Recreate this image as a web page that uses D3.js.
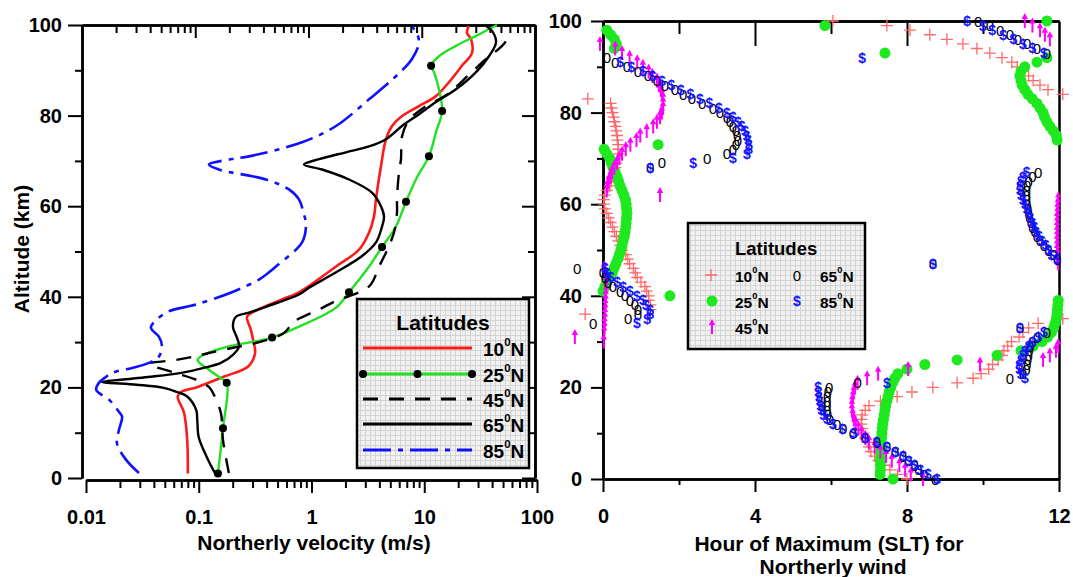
<!DOCTYPE html>
<html>
<head>
<meta charset="utf-8">
<script src="https://cdn.jsdelivr.net/npm/d3@7/dist/d3.min.js"></script>
<style>
  body { margin: 0; background: #fff; }
  svg text { font-family: "Liberation Sans", Arial, sans-serif; font-weight: bold; fill: #000; }
</style>
</head>
<body>
<svg id="chart" width="1073" height="577"></svg>
<script>
// ---------------- Left panel: northerly velocity profiles (m/s vs km) ----------------
const alt10 = [1, 8.4, 14.4, 18, 19, 20.1, 22.4, 24.6, 27.6, 30.5, 32.7, 35.6, 36.5, 39.4, 41, 46.7, 50.4, 54.2, 57.7, 61.5, 68.8, 74.8, 77.7, 79.9, 82.1, 84.3, 87.4, 91, 93.8, 96.9, 98.3, 99.8];
const vel10 = [0.080, 0.079, 0.074, 0.065, 0.070, 0.098, 0.168, 0.274, 0.316, 0.303, 0.290, 0.268, 0.296, 0.547, 0.774, 1.65, 2.64, 3.24, 3.58, 3.73, 4.13, 4.58, 5.18, 6.35, 8.98, 12.7, 16.6, 21.6, 26.5, 26.0, 23.9, 24.9];

const alt25 = [1, 11, 21, 22.3, 23.9, 26.1, 28.8, 30.1, 31, 33.4, 37.6, 41, 46.7, 51, 55.5, 61, 66.4, 71, 76.3, 81, 85.8, 89.6, 91, 93.1, 95.4, 97.6, 100];
const vel25 = [0.148, 0.164, 0.177, 0.151, 0.123, 0.098, 0.168, 0.309, 0.447, 0.774, 1.65, 2.15, 3.24, 4.22, 5.61, 6.89, 8.63, 11.0, 12.7, 14.4, 13.5, 12.2, 11.5, 13.5, 19.1, 28.8, 44.2];
const dots25 = [1, 11, 21, 31, 41, 51, 61, 71, 81, 91];

const alt45 = [1.1, 8.4, 14.4, 18.4, 20.1, 21.7, 23.3, 25.2, 26, 26.8, 27.6, 28.8, 30.1, 32, 34.5, 37.2, 38.9, 42.3, 46.7, 49.8, 54.2, 58.6, 61.5, 67.5, 70.4, 75.4, 79, 81.8, 84.5, 89, 92.5, 95.4, 98];
const vel45 = [0.185, 0.164, 0.157, 0.136, 0.123, 0.0946, 0.0603, 0.0362, 0.0603, 0.0908, 0.123, 0.206, 0.356, 0.570, 0.700, 1.17, 1.58, 3.24, 3.97, 4.58, 5.39, 5.73, 5.73, 5.97, 6.22, 6.35, 7.33, 9.95, 15.6, 24.9, 35.3, 49.0, 58.9];

const alt65 = [0.7, 4.6, 9, 12.8, 15, 18, 19, 19.9, 20.6, 21.2, 21.7, 22.3, 23.2, 24.3, 25.4, 27.2, 29, 31, 33.4, 35.6, 36.5, 37.8, 40.5, 42, 45.4, 49, 52, 55.5, 57.7, 60, 63, 65.9, 68.1, 69.2, 70.4, 71.9, 73.2, 74.8, 77.7, 80.3, 83, 85.8, 89.6, 93.1, 96.2, 98.7, 99.8];
const vel65 = [0.142, 0.118, 0.100, 0.097, 0.095, 0.079, 0.064, 0.049, 0.028, 0.0139, 0.0204, 0.0355, 0.070, 0.111, 0.157, 0.201, 0.228, 0.218, 0.201, 0.214, 0.279, 0.394, 0.774, 0.951, 1.65, 2.81, 3.73, 4.22, 4.40, 4.13, 3.44, 2.15, 1.24, 0.857, 1.17, 2.02, 3.24, 4.58, 6.35, 8.98, 12.7, 19.1, 28.8, 37.5, 43.3, 39.9, 35.3];

const alt85 = [1.1, 4, 7.7, 10.6, 13.5, 14.6, 17.3, 18.8, 19.5, 21, 22.3, 23.2, 24.3, 25.4, 26.8, 29, 31.2, 32.7, 33.4, 36.5, 38.3, 41, 43.8, 45.4, 46.7, 52, 56, 58.5, 61.5, 63.7, 65.9, 68.1, 69.2, 70.4, 71, 74.1, 77.7, 83.6, 88.7, 92.5, 96.2, 98.5, 99.6];
const vel85 = [0.0295, 0.0227, 0.0188, 0.0196, 0.0209, 0.0196, 0.0160, 0.0130, 0.0123, 0.0130, 0.0150, 0.0170, 0.0256, 0.0362, 0.0443, 0.0472, 0.0443, 0.0385, 0.0377, 0.0513, 0.0946, 0.197, 0.342, 0.420, 0.484, 0.824, 0.893, 0.85, 0.774, 0.631, 0.394, 0.151, 0.123, 0.197, 0.279, 0.824, 1.65, 3.24, 5.61, 7.78, 8.98, 8.45, 7.78];

const velTicks = [0.01, 0.1, 1, 10, 100];
const velTickLabels = ["0.01", "0.1", "1", "10", "100"];
const altTicks = [0, 20, 40, 60, 80, 100];
const altMinor = [10, 30, 50, 70, 90];
const latLabels = ["10", "25", "45", "65", "85"];

// ---------------- Right panel: hour of maximum (SLT) per km ----------------
const altKm = [0,1,2,3,4,5,6,7,8,9,10,11,12,13,14,15,16,17,18,19,20,21,22,23,24,25,26,27,28,29,30,31,32,33,34,35,36,37,38,39,40,41,42,43,44,45,46,47,48,49,50,51,52,53,54,55,56,57,58,59,60,61,62,63,64,65,66,67,68,69,70,71,72,73,74,75,76,77,78,79,80,81,82,83,84,85,86,87,88,89,90,91,92,93,94,95,96,97,98,99,100];

const hour10 = [8.0,7.75,7.55,7.4,7.25,7.15,7.05,7.0,6.95,6.9,6.85,6.82,6.8,6.8,6.82,6.9,7.0,7.3,7.74,8.13,8.68,9.32,9.74,9.95,10.15,10.25,10.4,10.5,10.55,10.65,10.75,10.95,11.05,11.2,11.45,12.1,-0.47,1.25,1.25,1.2,1.2,1.15,1.1,1.0,0.9,0.85,0.8,0.7,0.65,0.6,0.5,0.45,0.4,0.35,0.3,0.25,0.2,0.15,0.1,0.05,0.03,0.02,0.05,0.1,0.18,0.22,0.25,0.28,0.32,0.35,0.38,0.4,0.4,0.4,0.38,0.37,0.35,0.33,0.3,0.28,0.25,0.22,0.2,-0.4,12.1,11.71,11.5,11.32,11.2,11.05,10.9,10.76,10.5,10.18,9.84,9.47,9.05,8.6,8.08,7.47,6.05];

const hour25 = [7.63,7.29,7.3,7.3,7.3,7.31,7.31,7.32,7.32,7.33,7.34,7.35,7.36,7.38,7.4,7.42,7.44,7.47,7.5,7.53,7.57,7.62,7.68,7.76,8.0,8.47,9.32,10.37,11.0,11.32,11.55,11.7,11.8,11.86,11.9,11.93,11.95,11.96,11.97,11.98,1.76,0.0,0.05,0.1,0.18,0.24,0.29,0.34,0.39,0.43,0.47,0.5,0.53,0.56,0.58,0.6,0.61,0.62,0.63,0.62,0.61,0.59,0.55,0.5,0.45,0.41,0.37,0.32,0.26,0.22,0.18,0.1,0.03,1.45,11.95,11.93,11.85,11.76,11.68,11.62,11.58,11.5,11.42,11.3,11.18,11.1,11.03,11.0,10.97,11.0,11.1,11.42,11.68,7.42,0.3,0.35,0.3,0.2,0.1,5.84,11.68];

const hour45 = [8.42,8.1,7.95,7.8,7.6,7.45,7.3,7.15,7.0,6.9,6.8,6.72,6.65,6.6,6.57,6.55,6.55,6.56,6.58,6.6,6.63,6.7,6.95,7.24,8.03,9.92,11.58,11.76,11.92,11.98,0.02,-0.74,0.03,0.04,0.04,0.05,0.05,0.06,0.06,0.07,0.07,0.08,0.08,0.08,0.08,0.06,0.04,11.98,11.96,11.96,11.95,11.95,11.95,11.95,11.95,11.95,11.95,11.95,11.96,11.96,11.97,11.98,1.5,0.1,0.12,0.15,0.2,0.24,0.3,0.37,0.43,0.5,0.6,0.72,0.88,0.98,1.15,1.32,1.42,1.5,1.55,1.58,1.58,1.58,1.55,1.52,1.47,1.42,1.3,1.2,1.05,0.9,0.7,0.5,0.32,-0.08,11.76,11.63,11.5,11.3,11.1];

const hour65 = [8.74,8.45,8.3,8.2,8.03,7.89,7.68,7.47,7.21,6.89,6.58,6.32,6.16,5.97,5.92,5.9,5.9,5.9,5.9,5.92,5.95,6.7,10.71,11.05,11.14,11.16,11.18,11.2,11.22,11.24,11.3,11.42,11.68,10.97,-0.26,0.66,0.92,0.92,0.84,0.71,0.58,0.45,0.26,0.13,0.05,0.0,-0.68,8.68,11.95,11.85,11.72,11.6,11.5,11.42,11.36,11.3,11.26,11.22,11.2,11.18,11.16,11.15,11.15,11.15,11.16,11.2,11.3,11.45,1.24,1.55,2.74,3.26,3.42,3.5,3.55,3.53,3.5,3.42,3.34,3.26,3.08,2.89,2.61,2.34,2.11,1.89,1.63,1.42,1.18,0.92,0.63,0.32,0.1,11.68,11.42,11.16,10.92,10.71,10.45,10.18,9.87];

const hour85 = [8.79,8.55,8.35,8.2,8.05,7.9,7.7,7.47,7.2,6.9,6.6,6.3,6.05,5.9,5.8,5.75,5.72,5.7,5.68,5.66,5.66,7.47,11.1,11.0,10.95,10.95,11.0,11.05,11.1,11.2,11.3,11.45,11.6,10.97,0.89,1.16,1.24,1.24,1.13,1.05,0.89,0.71,0.53,0.37,0.2,0.1,0.05,8.68,11.95,11.8,11.72,11.65,11.55,11.47,11.4,11.35,11.3,11.25,11.2,11.15,11.1,11.05,11.0,10.97,10.97,11.0,11.05,11.15,1.24,2.37,3.42,3.79,3.84,3.84,3.82,3.78,3.74,3.65,3.55,3.42,3.26,3.05,2.8,2.55,2.3,2.05,1.8,1.55,1.3,1.05,0.75,0.45,6.82,11.6,11.3,11.05,10.8,10.53,10.24,10.0,9.58];

const hourTicks = [0, 4, 8, 12];
const hourMinor = [2, 6, 10];

// ---------------- drawing ----------------
const svg = d3.select("#chart");
const FONT = '"Liberation Sans", Arial, sans-serif';

// hatched legend background
const defs = svg.append("defs");
const pat = defs.append("pattern").attr("id", "legendGrid")
  .attr("patternUnits", "userSpaceOnUse").attr("width", 5).attr("height", 5);
pat.append("rect").attr("width", 5).attr("height", 5).attr("fill", "#f1f1f1");
pat.append("path").attr("d", "M0,0.5H5M0.5,0V5").attr("stroke", "#d3d3d3").attr("stroke-width", 1);

function styleAxis(g, fs) {
  g.attr("font-family", FONT).attr("font-size", fs).attr("font-weight", "bold");
  g.select(".domain").attr("stroke", "#000").attr("stroke-width", 2.5);
  g.selectAll(".tick line").attr("stroke", "#000").attr("stroke-width", 2);
  g.selectAll(".tick text").attr("fill", "#000");
  return g;
}

// ===== Left panel =====
const xB = d3.scaleLog().domain([0.01, 100]).range([86, 537]);
const xT = d3.scaleLog().domain([0.01, 100]).range([82, 535]);
const yL = d3.scaleLinear().domain([0, 100]).range([478, 25]);
const minorLog = xB.ticks().filter(v => velTicks.indexOf(v) < 0);

// frame lines first, curves on top of them
svg.append("g").attr("transform", "translate(0,480)")
  .call(d3.axisBottom(xB).tickValues(minorLog).tickSize(8).tickSizeOuter(0).tickFormat(""))
  .call(g => styleAxis(g, 20));
svg.append("g").attr("transform", "translate(0,480)")
  .call(d3.axisBottom(xB).tickValues(velTicks).tickSize(13).tickSizeOuter(0).tickPadding(17)
    .tickFormat((d, i) => velTickLabels[i]))
  .call(g => styleAxis(g, 20));
svg.append("g").attr("transform", "translate(0,25)")
  .call(d3.axisTop(xT).tickValues(minorLog).tickSize(-8).tickSizeOuter(0).tickFormat(""))
  .call(g => styleAxis(g, 20));
svg.append("g").attr("transform", "translate(0,25)")
  .call(d3.axisTop(xT).tickValues(velTicks).tickSize(-13).tickSizeOuter(0).tickFormat(""))
  .call(g => styleAxis(g, 20));
svg.append("g").attr("transform", "translate(82,0)")
  .call(d3.axisLeft(yL).tickValues(altMinor).tickSize(7).tickSizeOuter(0).tickFormat(""))
  .call(g => styleAxis(g, 20));
svg.append("g").attr("transform", "translate(82,0)")
  .call(d3.axisLeft(yL).tickValues(altTicks).tickSize(14).tickSizeOuter(0).tickPadding(6))
  .call(g => styleAxis(g, 20));
svg.append("g").attr("transform", "translate(535,0)")
  .call(d3.axisRight(yL).tickValues(altMinor).tickSize(-7).tickSizeOuter(0).tickFormat(""))
  .call(g => styleAxis(g, 20));
svg.append("g").attr("transform", "translate(535,0)")
  .call(d3.axisRight(yL).tickValues(altTicks).tickSize(-13).tickSizeOuter(0).tickFormat(""))
  .call(g => styleAxis(g, 20));

const profile = d3.line().x(d => xB(d[1])).y(d => yL(d[0])).curve(d3.curveCatmullRom.alpha(0.5));
const zipP = (a, v) => a.map((h, i) => [h, v[i]]);

const profiles = [
  { a: alt10, v: vel10, color: "#ff1a1a", dash: null, w: 2.6 },
  { a: alt25, v: vel25, color: "#22e022", dash: null, w: 2.4 },
  { a: alt45, v: vel45, color: "#000", dash: "15,11", w: 2.4 },
  { a: alt65, v: vel65, color: "#000", dash: null, w: 2.4 },
  { a: alt85, v: vel85, color: "#1010ff", dash: "28,7,5,7", w: 2.6 }
];
const gP = svg.append("g");
profiles.forEach(p => {
  gP.append("path").attr("d", profile(zipP(p.a, p.v)))
    .attr("fill", "none").attr("stroke", p.color).attr("stroke-width", p.w)
    .attr("stroke-dasharray", p.dash).attr("stroke-linejoin", "round");
});
// black dots every 10 km on the 25N profile
gP.selectAll("circle.d25").data(dots25).join("circle").attr("class", "d25")
  .attr("cx", a => xB(vel25[alt25.indexOf(a)])).attr("cy", a => yL(a)).attr("r", 4).attr("fill", "#000");

// left legend
function supLabel(g, x, y, num, fs) {
  const t = g.append("text").attr("x", x).attr("y", y).attr("font-size", fs).attr("dominant-baseline", "central");
  t.append("tspan").text(num);
  t.append("tspan").attr("font-size", fs * 0.6).attr("dy", -fs * 0.38).text("0");
  t.append("tspan").attr("dy", fs * 0.38).text("N");
  return t;
}
const lg = svg.append("g");
lg.append("rect").attr("x", 357).attr("y", 299).attr("width", 172).attr("height", 169)
  .attr("fill", "url(#legendGrid)").attr("stroke", "#000").attr("stroke-width", 2.5);
lg.append("text").attr("x", 443).attr("y", 322).attr("text-anchor", "middle")
  .attr("dominant-baseline", "central").attr("font-size", 21).text("Latitudes");
const rowY = [348, 374, 399, 424, 450];
profiles.forEach((p, i) => {
  lg.append("line").attr("x1", 363).attr("x2", 472).attr("y1", rowY[i]).attr("y2", rowY[i])
    .attr("stroke", p.color).attr("stroke-width", p.w + 0.4).attr("stroke-dasharray", p.dash);
  supLabel(lg, 483, rowY[i] + 1, latLabels[i], 19);
});
[363, 417.5, 472].forEach(x => lg.append("circle").attr("cx", x).attr("cy", rowY[1]).attr("r", 4).attr("fill", "#000"));

// axis titles (left)
svg.append("text").attr("x", 314).attr("y", 542).attr("text-anchor", "middle")
  .attr("dominant-baseline", "central").attr("font-size", 21).text("Northerly velocity (m/s)");
svg.append("text").attr("transform", "translate(21,249) rotate(-90)").attr("text-anchor", "middle")
  .attr("dominant-baseline", "central").attr("font-size", 21).text("Altitude (km)");

// ===== Right panel =====
const xH = d3.scaleLinear().domain([0, 12]).range([603, 1059]);
const yR = d3.scaleLinear().domain([0, 100]).range([479, 21]);

svg.append("g").attr("transform", "translate(0,479)")
  .call(d3.axisBottom(xH).tickValues(hourMinor).tickSize(6).tickSizeOuter(0).tickFormat(""))
  .call(g => styleAxis(g, 20));
svg.append("g").attr("transform", "translate(0,479)")
  .call(d3.axisBottom(xH).tickValues(hourTicks).tickSize(13).tickSizeOuter(0).tickPadding(17))
  .call(g => styleAxis(g, 20));
svg.append("g").attr("transform", "translate(0,21)")
  .call(d3.axisTop(xH).tickValues(hourMinor).tickSize(-13).tickSizeOuter(0).tickFormat(""))
  .call(g => styleAxis(g, 20));
svg.append("g").attr("transform", "translate(0,21)")
  .call(d3.axisTop(xH).tickValues([4, 8]).tickSize(-25).tickSizeOuter(0).tickFormat(""))
  .call(g => styleAxis(g, 20));
svg.append("g").attr("transform", "translate(603,0)")
  .call(d3.axisLeft(yR).tickValues(altMinor).tickSize(6).tickSizeOuter(0).tickFormat(""))
  .call(g => styleAxis(g, 20));
svg.append("g").attr("transform", "translate(603,0)")
  .call(d3.axisLeft(yR).tickValues(altTicks).tickSize(12).tickSizeOuter(0).tickPadding(9))
  .call(g => styleAxis(g, 20));
svg.append("g").attr("transform", "translate(1059,0)")
  .call(d3.axisRight(yR).tickValues([]).tickSizeOuter(0))
  .call(g => styleAxis(g, 20));

// symbol painters
const sym = {
  plus: (g, x, y) => g.append("path").attr("d", `M${x - 6},${y}H${x + 6}M${x},${y - 6}V${y + 6}`)
    .attr("stroke", "#ff6a6a").attr("stroke-width", 1.3).attr("fill", "none"),
  dot: (g, x, y) => g.append("circle").attr("cx", x).attr("cy", y).attr("r", 5.5).attr("fill", "#1ee81e"),
  arrow: (g, x, y) => {
    g.append("path").attr("d", `M${x},${y + 7}V${y - 3}`).attr("stroke", "#ff00ff").attr("stroke-width", 2);
    g.append("path").attr("d", `M${x - 3.2},${y - 2}L${x},${y - 8}L${x + 3.2},${y - 2}Z`).attr("fill", "#ff00ff");
  },
  zero: (g, x, y) => g.append("text").attr("x", x).attr("y", y).attr("text-anchor", "middle")
    .attr("dominant-baseline", "central").attr("font-size", 15).attr("font-weight", "normal")
    .style("font-weight", "normal").text("0"),
  dollar: (g, x, y) => g.append("text").attr("x", x).attr("y", y).attr("text-anchor", "middle")
    .attr("dominant-baseline", "central").attr("font-size", 14).style("fill", "#1414ff").text("$")
};

const hourSeries = [
  { h: hour10, s: "plus" },
  { h: hour25, s: "dot" },
  { h: hour45, s: "arrow" },
  { h: hour65, s: "zero" },
  { h: hour85, s: "dollar" }
];
hourSeries.forEach(ser => {
  const g = svg.append("g");
  altKm.forEach((a, i) => {
    const v = ser.h[i];
    if (v == null) return;
    sym[ser.s](g, xH(v), yR(a));
  });
});

// right legend
const rg = svg.append("g");
rg.append("rect").attr("x", 688).attr("y", 223).attr("width", 177).attr("height", 126)
  .attr("fill", "url(#legendGrid)").attr("stroke", "#000").attr("stroke-width", 2.5);
rg.append("text").attr("x", 735).attr("y", 248).attr("dominant-baseline", "central")
  .attr("font-size", 18.5).text("Latitudes");
const rRows = [
  { s: "plus", x: 711, y: 275, lab: latLabels[0], lx: 735 },
  { s: "dot", x: 712, y: 301, lab: latLabels[1], lx: 735 },
  { s: "arrow", x: 712, y: 327, lab: latLabels[2], lx: 735 },
  { s: "zero", x: 797, y: 275, lab: latLabels[3], lx: 820 },
  { s: "dollar", x: 797, y: 301, lab: latLabels[4], lx: 820 }
];
rRows.forEach(r => {
  sym[r.s](rg, r.x, r.y);
  supLabel(rg, r.lx, r.y + 1, r.lab, 15.5);
});

// axis title (right), two lines
svg.append("text").attr("x", 829).attr("y", 543).attr("text-anchor", "middle")
  .attr("dominant-baseline", "central").attr("font-size", 21).text("Hour of Maximum (SLT) for");
svg.append("text").attr("x", 833).attr("y", 566).attr("text-anchor", "middle")
  .attr("dominant-baseline", "central").attr("font-size", 21).text("Northerly wind");
</script>
</body>
</html>
